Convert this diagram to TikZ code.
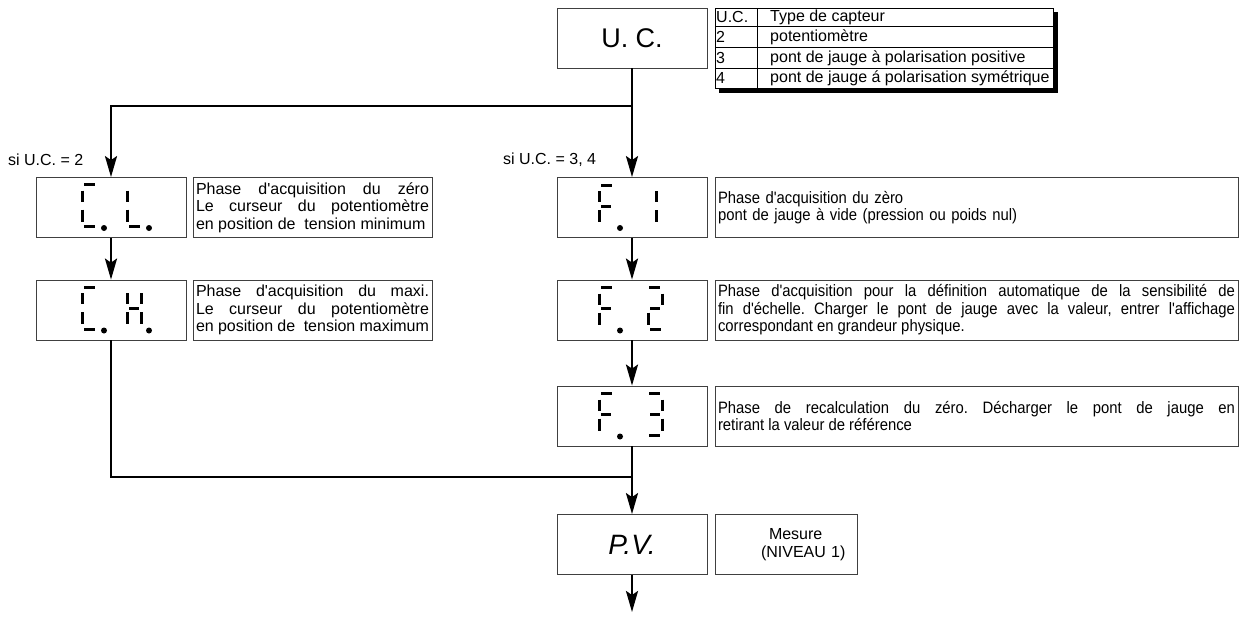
\documentclass[tikz,border=0pt]{standalone}
\usepackage{fontspec}
\setmainfont{Liberation Sans}
\newfontfamily\arialfont{Liberation Sans}
\newfontfamily\narrowfont{Liberation Sans}[FakeStretch=0.9]
\usetikzlibrary{arrows.meta,positioning}

% segment lists of the seven-segment digits: x1/y1/x2/y2
\def\sgC{2/0/13/0, 0/6/0/17, 0/25/0/37, 2/42/13/42}
\def\sgL{0/6/0/17, 0/25/0/37, 2/42/13/42}
\def\sgH{0/6/0/17, 14/6/14/17, 2/21/12/21, 0/25/0/37, 14/25/14/37}
\def\sgF{2/0/13/0, 0/6/0/17, 2/21/12/21, 0/25/0/37}
\def\sgOne{8/6/8/17, 8/25/8/37}
\def\sgTwo{1/0/12/0, 14/6/14/17, 2/21/12/21, 0/25/0/37, 2/42/13/42}
\def\sgThree{1/0/12/0, 14/6/14/17, 2/21/12/21, 14/25/14/37, 1/42/12/42}

\newcommand{\sevenseg}[3]{%
  \begin{scope}[shift={(#1,#2)}]
    \foreach \xa/\ya/\xb/\yb in #3 \draw[seg] (\xa,\ya) -- (\xb,\yb);
  \end{scope}}

\begin{document}
\frenchspacing
\begin{tikzpicture}[x=1pt, y=-1pt,
  font=\arialfont\fontsize{16}{17.5}\selectfont,
  box/.style={draw=black!75, line width=0.8pt, minimum width=150pt,
    minimum height=60pt, inner sep=0pt},
  desc/.style={draw=black!75, line width=0.8pt, minimum height=60pt,
    inner sep=3pt},
  wide/.style={font=\narrowfont\fontsize{16.5}{17.5}\selectfont},
  big/.style={font=\arialfont\fontsize{27}{30}\selectfont},
  arr/.style={-{Stealth[length=21pt, width=12pt, inset=4pt]}, line width=2.5pt},
  link/.style={line width=2.5pt},
  seg/.style={line width=3pt},
  lbl/.style={anchor=west, inner sep=0pt},
  tabtxt/.style={anchor=west, inner sep=0pt}
]
  \useasboundingbox (0,0) rectangle (1241,625);

  % top: sensor type
  \node[box, big] (uc) at (632,38) {U. C.};
  \fill (719,12) rectangle (1058,93);
  \node[draw, fill=white, line width=0.8pt, minimum width=338pt,
    minimum height=80pt, inner sep=0pt] (tab) at (884,48) {};
  \draw[line width=0.8pt] (757,8) -- (757,88);
  \foreach \y in {26,47,68} \draw[line width=0.8pt] (715,\y) -- (1053,\y);
  \foreach \n/\t [count=\i] in {U.C./Type de capteur, 2/potentiomètre,
      3/pont de jauge à polarisation positive,
      4/pont de jauge á polarisation symétrique} {
    \node[tabtxt] (tn\i) at (716,{17+20.4*(\i-1)}) {\n};
    \node[tabtxt] (tt\i) at (770,{17+20.4*(\i-1)}) {\t};
  }

  % branch U.C. = 2
  \node[box] (cl) at (111,207.5) {};
  \node[box] (ch) at (111,310) {};
  \node[desc, text width=233pt, align=justify] (cld) at (312.5,207.5)
    {Phase d'acquisition du zéro\linebreak Le curseur du potentiomètre\linebreak
     en position de\ \ tension minimum};
  \node[desc, text width=233pt, align=justify] (chd) at (312.5,310)
    {Phase d'acquisition du maxi.\linebreak Le curseur du potentiomètre\linebreak
     en position de\ \ tension maximum};
  \sevenseg{82}{184.5}{\sgC}  \fill (104,228) circle (3pt);
  \sevenseg{127}{184.5}{\sgL} \fill (149,228) circle (3pt);
  \sevenseg{82}{287}{\sgC}    \fill (104,330.5) circle (3pt);
  \sevenseg{127}{287}{\sgH}   \fill (149,330.5) circle (3pt);

  % branch U.C. = 3, 4
  \node[box] (f1) at (632,207.5) {};
  \node[box] (f2) at (632,310) {};
  \node[box] (f3) at (632,416) {};
  \node[desc, wide, text width=517pt, align=left] (f1d) at (976.5,207.5)
    {Phase d'acquisition du zèro\\pont de jauge à vide (pression ou poids nul)};
  \node[desc, wide, text width=517pt, align=justify] (f2d) at (976.5,310)
    {Phase d'acquisition pour la définition automatique de la sensibilité de\linebreak
     fin d'échelle. Charger le pont de jauge avec la valeur, entrer l'affichage\linebreak
     correspondant en grandeur physique.};
  \node[desc, wide, text width=517pt, align=justify] (f3d) at (976.5,416)
    {Phase de recalculation du zéro. Décharger le pont de jauge en\linebreak
     retirant la valeur de référence};
  \sevenseg{599}{185}{\sgF}     \fill (620,228) circle (3pt);
  \sevenseg{648}{185}{\sgOne}
  \sevenseg{599}{287.5}{\sgF}   \fill (620,330.5) circle (3pt);
  \sevenseg{648}{287.5}{\sgTwo}
  \sevenseg{599}{393.5}{\sgF}   \fill (620,436.5) circle (3pt);
  \sevenseg{648}{393.5}{\sgThree}

  % measure
  \node[box, font=\arialfont\fontsize{28}{30}\selectfont\itshape] (pv) at (632,544.5) {P.V.};
  \node[desc, minimum width=142pt, text width=136pt, align=left] (pvd) at (786,544.5)
    {\hspace*{51pt}Mesure\\\hspace*{43pt}(NIVEAU 1)};

  \node[lbl] (si2) at (8,160) {si U.C. = 2};
  \node[lbl] (si34) at (503,160) {si U.C. = 3, 4};

  % connectors
  \coordinate (split) at (632,106);
  \coordinate (merge) at (632,477);
  \coordinate (exit) at (632,612);
  \draw[arr] (uc.south) -- (f1.north);
  \draw[arr] (split) -| (cl.north);
  \draw[arr] (cl) -- (ch);
  \draw[arr] (f1) -- (f2);
  \draw[arr] (f2) -- (f3);
  \draw[arr] (f3) -- (pv);
  \draw[link] (ch.south) |- (merge);
  \draw[arr] (pv) -- (exit);
\end{tikzpicture}
\end{document}
